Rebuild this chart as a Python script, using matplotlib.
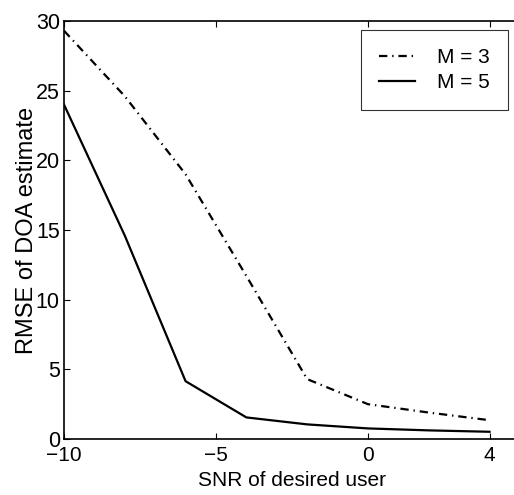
import matplotlib
matplotlib.use("Agg")
import matplotlib.pyplot as plt

plt.rcParams['font.family'] = ['Liberation Sans', 'DejaVu Sans']
plt.rcParams['lines.scale_dashes'] = False

snr = [-10, -8, -6, -4, -2, 0, 2, 4]
rmse_m3 = [29.3, 24.6, 19.0, 11.7, 4.3, 2.5, 1.9, 1.35]
rmse_m5 = [24.0, 14.6, 4.15, 1.55, 1.05, 0.76, 0.62, 0.52]
labels = ['M = 3', 'M = 5']
xticks = [-10, -5, 0, 4]
yticks = [0, 5, 10, 15, 20, 25, 30]

fig = plt.figure(figsize=(5.14, 4.95), dpi=100)
ax = fig.add_axes([0.1245, 0.1131, 0.887, 0.8445])

ax.plot(snr, rmse_m3, color='black', lw=1.6, linestyle=(0, (6, 3.5, 1, 3.5)), label=labels[0])
ax.plot(snr, rmse_m5, color='black', lw=1.6, linestyle='-', label=labels[1])

ax.set_xlim(-10, 5)
ax.set_ylim(0, 30)
ax.set_xticks(xticks)
ax.set_xticklabels(['\u221210', '\u22125', '0', '4'])
ax.set_yticks(yticks)
ax.tick_params(direction='in', length=4, width=0.8, top=True, right=True, pad=2)
ax.tick_params(axis='x', labelsize=15, pad=5)
ax.tick_params(axis='y', labelsize=15.5, pad=3)
for s in ax.spines.values():
    s.set_linewidth(1.2)

ax.set_xlabel('SNR of desired user', fontsize=15, labelpad=4)
ax.set_ylabel('RMSE of DOA estimate', fontsize=17, labelpad=-1.5)

leg = ax.legend(loc='upper right', bbox_to_anchor=(0.973, 0.978), fontsize=15,
                frameon=True, fancybox=False, edgecolor='black', handlelength=1.75,
                handletextpad=1.05, borderpad=0.85, labelspacing=0.3, borderaxespad=0)
leg.get_frame().set_linewidth(0.8)

fig.savefig('out.png', dpi=100)
